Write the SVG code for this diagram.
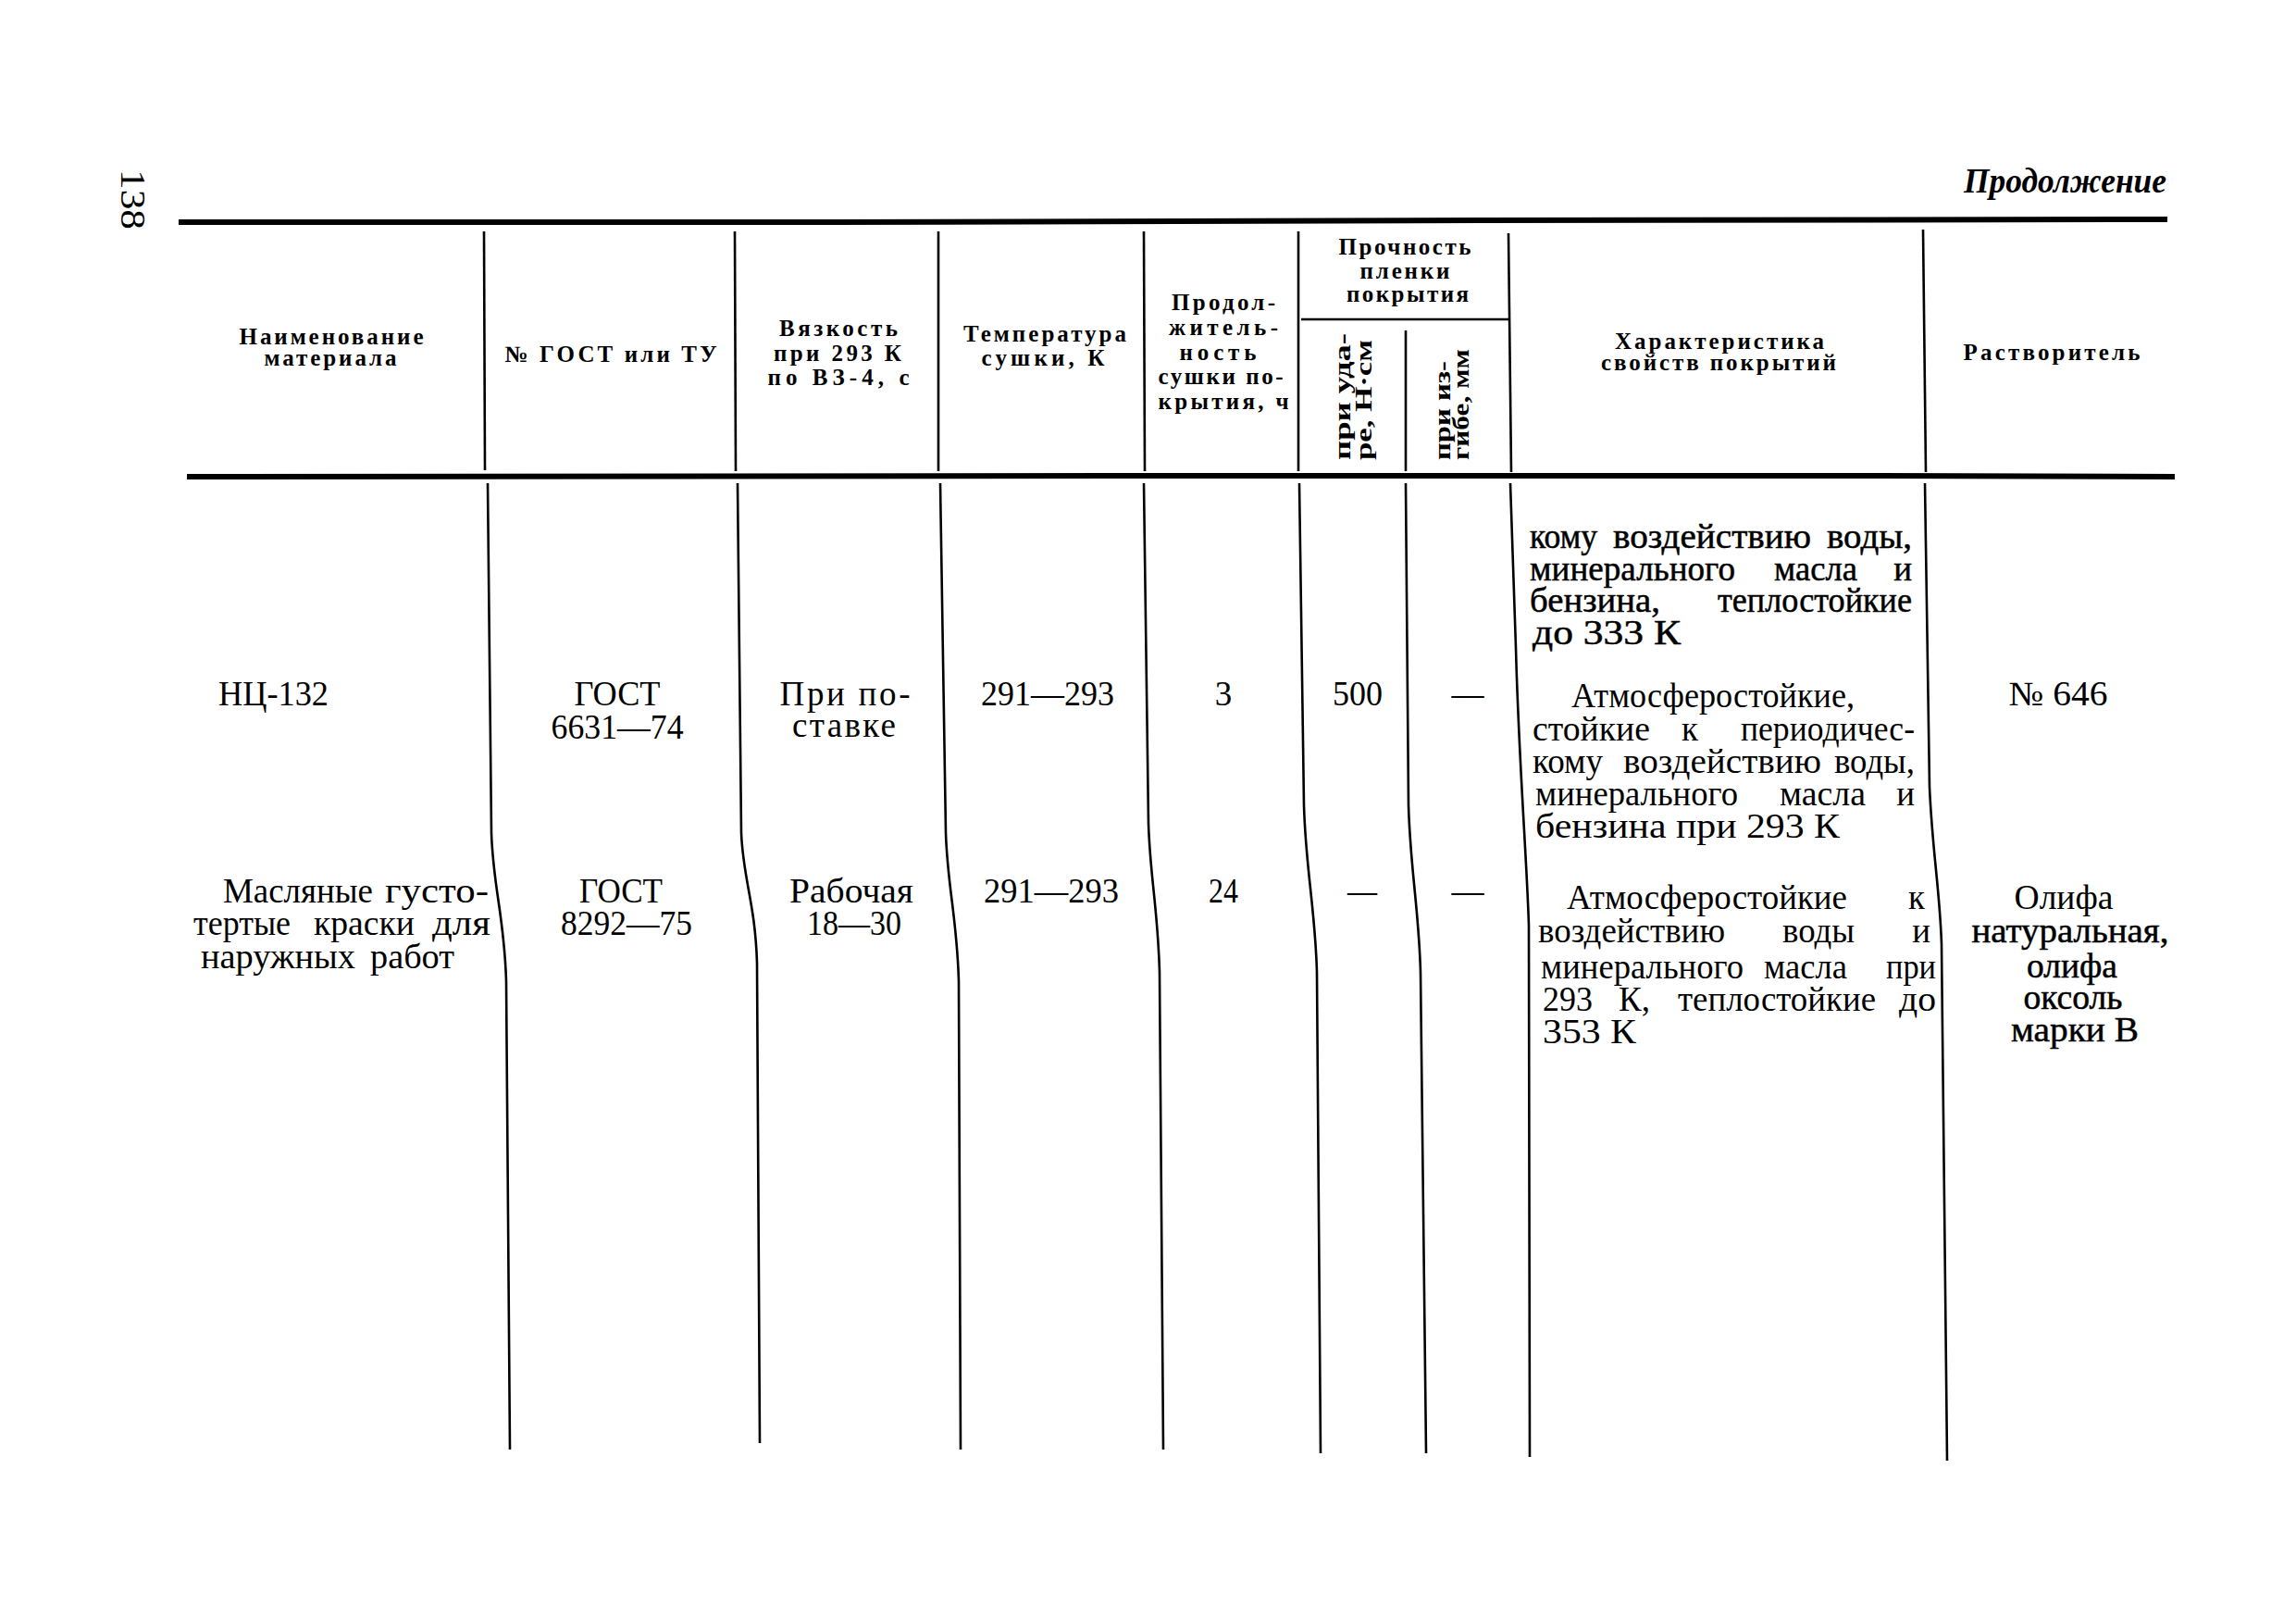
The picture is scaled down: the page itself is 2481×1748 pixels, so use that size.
<svg xmlns="http://www.w3.org/2000/svg" width="2481" height="1748" viewBox="0 0 2481 1748">
<style>
.hd{font-family:"Liberation Serif","DejaVu Serif",serif;font-weight:bold;font-size:25px;fill:#000;text-anchor:middle}
.hr{font-family:"Liberation Serif","DejaVu Serif",serif;font-weight:bold;font-size:25px;fill:#000}
.bd{font-family:"Liberation Serif","DejaVu Serif",serif;font-size:37px;fill:#000}
.c{text-anchor:middle}
.e{text-anchor:end}
.hv{stroke:#000;stroke-width:0.5px}
.rule{fill:none;stroke:#000;stroke-linecap:butt}
.thick{stroke-width:6}
.thin{stroke-width:2.6}
</style>
<rect width="2481" height="1748" fill="#fff"/>

<g id="connectors">
  <path class="rule thick" d="M193 240 L900 240 L1600 238 L2342 237"/>
  <path class="rule thick" d="M202 515 L1200 514 L2000 514 L2350 515"/>
  <path class="rule thin" d="M523 250 L524 508"/>
  <path class="rule thin" d="M794 250 L795 509"/>
  <path class="rule thin" d="M1014 250 L1014 509"/>
  <path class="rule thin" d="M1236 250 L1237 509"/>
  <path class="rule thin" d="M1403 250 L1403 509"/>
  <path class="rule thin" d="M1519 357 L1519 509"/>
  <path class="rule thin" d="M1630 252 L1633 510"/>
  <path class="rule thin" d="M2078 248 L2081 510"/>
  <path class="rule thin" d="M1406 345 L1630 345"/>
  <path class="rule thin" d="M527 522 L531 900 C533 960 545 990 547 1060 L551 1566"/>
  <path class="rule thin" d="M797 522 L801 900 C803 950 816 975 818 1040 L821 1559"/>
  <path class="rule thin" d="M1016 522 L1022 900 C1024 960 1034 990 1036 1060 L1038 1566"/>
  <path class="rule thin" d="M1236 522 L1241 890 C1243 950 1251 980 1253 1050 L1257 1566"/>
  <path class="rule thin" d="M1404 522 L1409 870 C1411 940 1421 980 1423 1050 L1427 1570"/>
  <path class="rule thin" d="M1519 522 L1522 870 C1524 940 1533 980 1535 1050 L1541 1570"/>
  <path class="rule thin" d="M1632 522 L1638 700 C1641 820 1650 930 1652 1000 L1653 1574"/>
  <path class="rule thin" d="M2080 522 L2085 850 C2088 920 2096 960 2098 1020 L2104 1578"/>
</g>

<g id="page-number">
  <text class="bd" font-size="46" transform="translate(131,183) rotate(90)" textLength="65" lengthAdjust="spacingAndGlyphs">138</text>
</g>
<g id="continuation">
  <text class="bd" font-size="40" font-style="italic" font-weight="bold" x="2341" y="208" text-anchor="end" textLength="219" lengthAdjust="spacingAndGlyphs">Продолжение</text>
</g>

<g id="h-name">
  <text class="hd" x="358" y="372" textLength="199" lengthAdjust="spacing">Наименование</text>
  <text class="hd" x="357" y="395" textLength="143" lengthAdjust="spacing">материала</text>
</g>
<g id="h-gost">
  <text class="hd" x="660" y="391" textLength="229" lengthAdjust="spacing">№ ГОСТ или ТУ</text>
</g>
<g id="h-visc">
  <text class="hd" x="906" y="363" textLength="128" lengthAdjust="spacing">Вязкость</text>
  <text class="hd" x="905" y="390" textLength="138" lengthAdjust="spacing">при 293 К</text>
  <text class="hd" x="906" y="416" textLength="153" lengthAdjust="spacing">по ВЗ-4, с</text>
</g>
<g id="h-temp">
  <text class="hd" x="1129" y="369" textLength="176" lengthAdjust="spacing">Температура</text>
  <text class="hd" x="1127" y="395" textLength="133" lengthAdjust="spacing">сушки, К</text>
</g>
<g id="h-dur">
  <text class="hd" x="1322" y="335" textLength="112" lengthAdjust="spacing">Продол-</text>
  <text class="hd" x="1322" y="362" textLength="118" lengthAdjust="spacing">житель-</text>
  <text class="hd" x="1316" y="389" textLength="83" lengthAdjust="spacing">ность</text>
  <text class="hd" x="1319" y="415" textLength="135" lengthAdjust="spacing">сушки по-</text>
  <text class="hd" x="1322" y="442" textLength="141" lengthAdjust="spacing">крытия, ч</text>
</g>
<g id="h-strength">
  <text class="hd" x="1518" y="275" textLength="143" lengthAdjust="spacing">Прочность</text>
  <text class="hd" x="1518" y="301" textLength="97" lengthAdjust="spacing">пленки</text>
  <text class="hd" x="1521" y="326" textLength="132" lengthAdjust="spacing">покрытия</text>
</g>
<g id="h-impact">
  <text class="hr" transform="translate(1459,497) rotate(-90)" textLength="137" lengthAdjust="spacingAndGlyphs">при уда-</text>
  <text class="hr" transform="translate(1482,497) rotate(-90)" textLength="130" lengthAdjust="spacingAndGlyphs">ре, Н·см</text>
</g>
<g id="h-bend">
  <text class="hr" transform="translate(1567,497) rotate(-90)" textLength="107" lengthAdjust="spacingAndGlyphs">при из-</text>
  <text class="hr" transform="translate(1587,497) rotate(-90)" textLength="120" lengthAdjust="spacingAndGlyphs">гибе, мм</text>
</g>
<g id="h-char">
  <text class="hd" x="1858" y="377" textLength="226" lengthAdjust="spacing">Характеристика</text>
  <text class="hd" x="1857" y="400" textLength="254" lengthAdjust="spacing">свойств покрытий</text>
</g>
<g id="h-solvent">
  <text class="hd" x="2217" y="389" textLength="191" lengthAdjust="spacing">Растворитель</text>
</g>

<g id="row0-char">
  <text class="bd hv" x="1653" y="592" textLength="73" lengthAdjust="spacingAndGlyphs">кому</text>
  <text class="bd hv" x="1743" y="592" textLength="214" lengthAdjust="spacingAndGlyphs">воздействию</text>
  <text class="bd hv" x="1974" y="592" textLength="92" lengthAdjust="spacingAndGlyphs">воды,</text>
  <text class="bd hv" x="1653" y="627" textLength="222" lengthAdjust="spacingAndGlyphs">минерального</text>
  <text class="bd hv" x="1917" y="627" textLength="90" lengthAdjust="spacingAndGlyphs">масла</text>
  <text class="bd hv e" x="2066" y="627">и</text>
  <text class="bd hv" x="1653" y="661" textLength="141" lengthAdjust="spacingAndGlyphs">бензина,</text>
  <text class="bd hv" x="1856" y="661" textLength="210" lengthAdjust="spacingAndGlyphs">теплостойкие</text>
  <text class="bd hv" x="1656" y="696" textLength="160" lengthAdjust="spacingAndGlyphs">до 333 К</text>
</g>

<g id="row1-name"><text class="bd" x="236" y="762" textLength="119" lengthAdjust="spacingAndGlyphs">НЦ-132</text></g>
<g id="row1-gost">
  <text class="bd c" x="667" y="762" textLength="93" lengthAdjust="spacingAndGlyphs">ГОСТ</text>
  <text class="bd c" x="667" y="798" textLength="143" lengthAdjust="spacingAndGlyphs">6631—74</text>
</g>
<g id="row1-visc">
  <text class="bd c" x="913" y="762" textLength="141" lengthAdjust="spacing">При по-</text>
  <text class="bd c" x="912" y="796" textLength="112" lengthAdjust="spacing">ставке</text>
</g>
<g id="row1-temp"><text class="bd c" x="1132" y="762" textLength="144" lengthAdjust="spacingAndGlyphs">291—293</text></g>
<g id="row1-dur"><text class="bd c" x="1322" y="762">3</text></g>
<g id="row1-impact"><text class="bd c" x="1467" y="762" textLength="54" lengthAdjust="spacingAndGlyphs">500</text></g>
<g id="row1-bend"><text class="bd c" x="1586" y="762" textLength="35" lengthAdjust="spacingAndGlyphs">—</text></g>
<g id="row1-char">
  <text class="bd" x="1698" y="764" textLength="306" lengthAdjust="spacingAndGlyphs">Атмосферостойкие,</text>
  <text class="bd" x="1656" y="800" textLength="127" lengthAdjust="spacingAndGlyphs">стойкие</text>
  <text class="bd" x="1817" y="800">к</text>
  <text class="bd" x="1881" y="800" textLength="188" lengthAdjust="spacingAndGlyphs">периодичес-</text>
  <text class="bd" x="1656" y="835" textLength="76" lengthAdjust="spacingAndGlyphs">кому</text>
  <text class="bd" x="1754" y="835" textLength="214" lengthAdjust="spacingAndGlyphs">воздействию</text>
  <text class="bd" x="1982" y="835" textLength="87" lengthAdjust="spacingAndGlyphs">воды,</text>
  <text class="bd" x="1659" y="870" textLength="219" lengthAdjust="spacingAndGlyphs">минерального</text>
  <text class="bd" x="1923" y="870" textLength="93" lengthAdjust="spacingAndGlyphs">масла</text>
  <text class="bd e" x="2069" y="870">и</text>
  <text class="bd" x="1659" y="905" textLength="329" lengthAdjust="spacingAndGlyphs">бензина при 293 К</text>
</g>
<g id="row1-solvent"><text class="bd c" x="2224" y="762" textLength="107" lengthAdjust="spacingAndGlyphs">№ 646</text></g>

<g id="row2-name">
  <text class="bd" x="241" y="975" textLength="162" lengthAdjust="spacingAndGlyphs">Масляные</text>
  <text class="bd" x="416" y="975" textLength="112" lengthAdjust="spacingAndGlyphs">густо-</text>
  <text class="bd" x="209" y="1010" textLength="105" lengthAdjust="spacingAndGlyphs">тертые</text>
  <text class="bd" x="339" y="1010" textLength="109" lengthAdjust="spacingAndGlyphs">краски</text>
  <text class="bd" x="467" y="1010" textLength="63" lengthAdjust="spacingAndGlyphs">для</text>
  <text class="bd" x="217" y="1046" textLength="167" lengthAdjust="spacingAndGlyphs">наружных</text>
  <text class="bd" x="400" y="1046" textLength="91" lengthAdjust="spacingAndGlyphs">работ</text>
</g>
<g id="row2-gost">
  <text class="bd c" x="671" y="975" textLength="90" lengthAdjust="spacingAndGlyphs">ГОСТ</text>
  <text class="bd c" x="677" y="1010" textLength="142" lengthAdjust="spacingAndGlyphs">8292—75</text>
</g>
<g id="row2-visc">
  <text class="bd c" x="920" y="975" textLength="134" lengthAdjust="spacingAndGlyphs">Рабочая</text>
  <text class="bd c" x="923" y="1010" textLength="102" lengthAdjust="spacingAndGlyphs">18—30</text>
</g>
<g id="row2-temp"><text class="bd c" x="1136" y="975" textLength="146" lengthAdjust="spacingAndGlyphs">291—293</text></g>
<g id="row2-dur"><text class="bd c" x="1322" y="975" textLength="32" lengthAdjust="spacingAndGlyphs">24</text></g>
<g id="row2-impact"><text class="bd c" x="1472" y="975" textLength="32" lengthAdjust="spacingAndGlyphs">—</text></g>
<g id="row2-bend"><text class="bd c" x="1586" y="975" textLength="35" lengthAdjust="spacingAndGlyphs">—</text></g>
<g id="row2-char">
  <text class="bd" x="1693" y="982" textLength="303" lengthAdjust="spacingAndGlyphs">Атмосферостойкие</text>
  <text class="bd e" x="2080" y="982">к</text>
  <text class="bd" x="1662" y="1018" textLength="202" lengthAdjust="spacingAndGlyphs">воздействию</text>
  <text class="bd" x="1926" y="1018" textLength="78" lengthAdjust="spacingAndGlyphs">воды</text>
  <text class="bd e" x="2086" y="1018">и</text>
  <text class="bd" x="1665" y="1057" textLength="219" lengthAdjust="spacingAndGlyphs">минерального</text>
  <text class="bd" x="1906" y="1057" textLength="90" lengthAdjust="spacingAndGlyphs">масла</text>
  <text class="bd" x="2038" y="1057" textLength="54" lengthAdjust="spacingAndGlyphs">при</text>
  <text class="bd" x="1667" y="1092" textLength="54" lengthAdjust="spacingAndGlyphs">293</text>
  <text class="bd" x="1749" y="1092">К,</text>
  <text class="bd" x="1813" y="1092" textLength="214" lengthAdjust="spacingAndGlyphs">теплостойкие</text>
  <text class="bd" x="2052" y="1092" textLength="40" lengthAdjust="spacingAndGlyphs">до</text>
  <text class="bd" x="1667" y="1127" textLength="101" lengthAdjust="spacingAndGlyphs">353 К</text>
</g>
<g id="row2-solvent">
  <text class="bd c" x="2230" y="982" textLength="107" lengthAdjust="spacingAndGlyphs">Олифа</text>
  <text class="bd c hv" x="2237" y="1018" textLength="213" lengthAdjust="spacingAndGlyphs">натуральная,</text>
  <text class="bd c hv" x="2239" y="1056" textLength="98" lengthAdjust="spacingAndGlyphs">олифа</text>
  <text class="bd c hv" x="2240" y="1090" textLength="107" lengthAdjust="spacingAndGlyphs">оксоль</text>
  <text class="bd c hv" x="2242" y="1125" textLength="138" lengthAdjust="spacingAndGlyphs">марки В</text>
</g>
</svg>
